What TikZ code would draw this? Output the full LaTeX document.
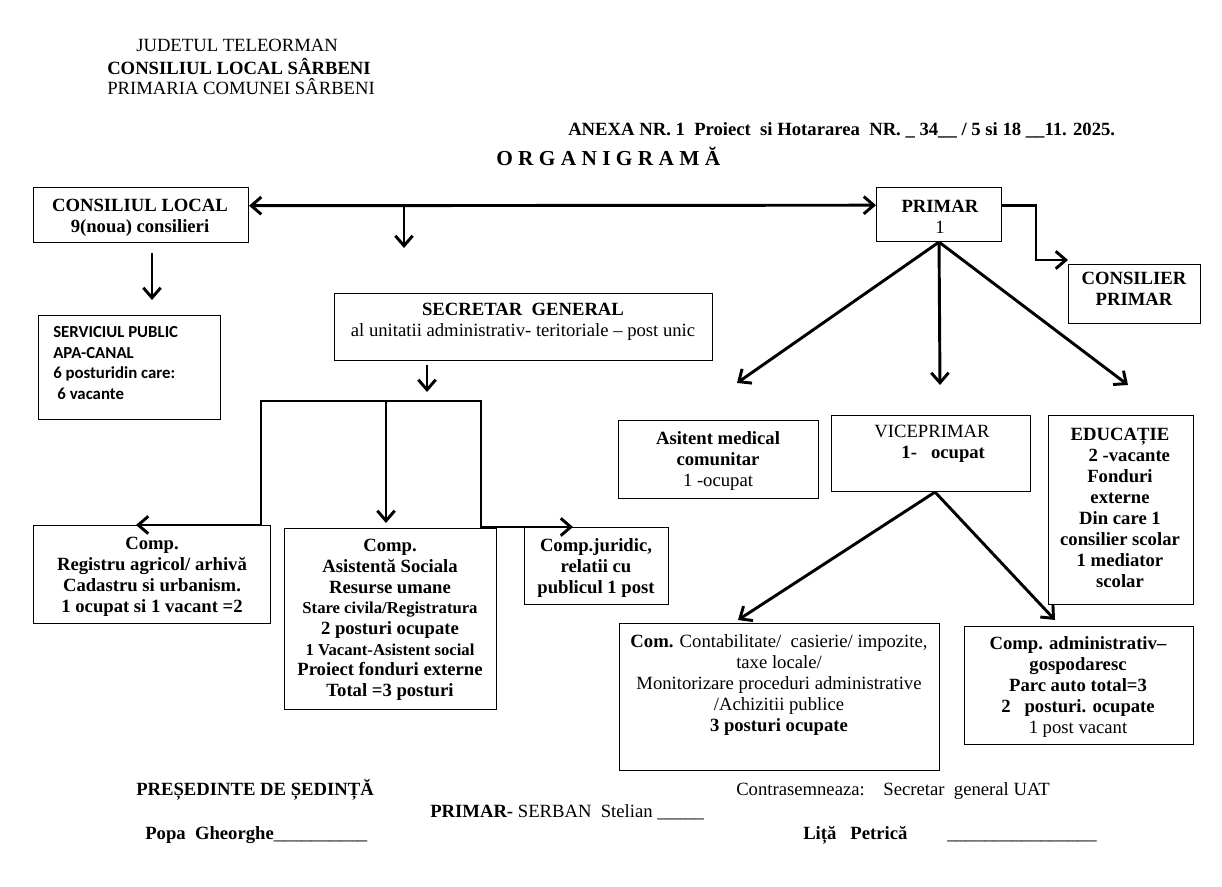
\documentclass[tikz,border=0pt]{standalone}
\usepackage{fontspec}
\setmainfont{Liberation Serif}
\newfontfamily\calibri{Carlito}
\usetikzlibrary{arrows.meta}
\usetikzlibrary{positioning}

\tikzset{
box/.style={draw, rectangle, line width=0.8pt, inner sep=0pt, anchor=north west},
wh/.style 2 args={minimum width=#1*0.75pt, minimum height=#2*0.75pt},
txt/.style={align=center, inner sep=0pt, font=\fontsize{14}{15.75}\selectfont},
txtb/.style={txt, font=\bfseries\fontsize{14}{15.75}\selectfont},
arr/.style={line width=2.2pt, -{Straight Barb[length=7.5pt,width=13pt]}},
arrs/.style={line width=2.2pt, {Straight Barb[length=7.5pt,width=13pt]}-{Straight Barb[length=7.5pt,width=13pt]}}
}

\begin{document}
\begin{tikzpicture}[x=0.75pt,y=-0.75pt]
\fill[white] (0,0) rectangle (1222,887);
\useasboundingbox (0,0) rectangle (1222,887);

% header
\node[txt, anchor=west] (jud) at (136,45) {JUDETUL TELEORMAN};
\node[txtb, anchor=west] (clsar) at (107,66) {CONSILIUL LOCAL SÂRBENI};
\node[txt, anchor=west] (prim) at (107,87) {PRIMARIA COMUNEI SÂRBENI};
\node[txtb, anchor=west] (anexa) at (568,130)
{ANEXA NR. 1\ \ Proiect\ \ si Hotararea\ \ NR. \_ 34\_\_ / 5 si 18 \_\_11. 2025.};
\node[txtb, anchor=west, font=\bfseries\fontsize{16}{18}\selectfont] (titlu) at (496,156)
{O R G A N I G R A M Ă};

% boxes
\node[box, wh={215}{55}] (cl) at (33,187) {};
\node[box, wh={125}{54}] (primar) at (876,187) {};
\node[box, wh={132}{59}] (cp) at (1068,264) {};
\node[box, wh={182}{104}] (sp) at (38,315) {};
\node[box, wh={378}{67}] (sec) at (334,293) {};
\node[box, wh={200}{78}] (amc) at (618,420) {};
\node[box, wh={199}{76}] (vp) at (831,415) {};
\node[box, wh={145}{189}] (ed) at (1048,415) {};
\node[box, wh={237}{98}] (reg) at (33,525) {};
\node[box, wh={212}{181}] (as) at (284,528) {};
\node[box, wh={144}{77}] (jur) at (524,527) {};
\node[box, wh={320}{147}] (cont) at (619,623) {};
\node[box, wh={229}{118}] (adm) at (964,626) {};

% texts
\node[txtb] (cltxt) at (140,218) {CONSILIUL LOCAL\\9(noua) consilieri};
\node[txt] (primartxt) at (940,217) {\textbf{PRIMAR}\\1};
\node[txtb] (cptxt) at (1134,289) {CONSILIER\\PRIMAR};
\node[txt, align=left, anchor=west, font=\calibri\bfseries\fontsize{12.6}{15.5}\selectfont] (sptxt) at (53,363)
{SERVICIUL PUBLIC\\APA-CANAL\\6 posturidin care:\\\hspace*{0.25em}6 vacante};
\node[txt] (sectxt) at (523,322) {\textbf{SECRETAR\ \ GENERAL}\\al unitatii administrativ- teritoriale – post unic};
\node[txt] (amctxt) at (718,461) {\textbf{Asitent medical}\\\textbf{comunitar}\\1 -ocupat};
\node[txt] (vptxt) at (932,444) {VICEPRIMAR\\\hspace*{1.2em}\textbf{1-\ \ \ ocupat}};
\node[txtb] (edtxt) at (1120,508)
{EDUCAȚIE\\\hspace*{1em}2 -vacante\\Fonduri\\externe\\Din care 1\\consilier scolar\\1 mediator\\scolar};
\node[txtb] (regtxt) at (152,577)
{Comp.\\Registru agricol/ arhivă\\Cadastru si urbanism.\\1 ocupat si 1 vacant =2};
\node[txtb, font=\bfseries\fontsize{14}{15.5}\selectfont] (astxt) at (390,620)
{Comp.\\Asistentă Sociala\\Resurse umane\\{\fontsize{12.5}{15.5}\selectfont Stare civila/Registratura}\\2 posturi ocupate\\{\fontsize{12.5}{15.5}\selectfont 1 Vacant-Asistent social}\\Proiect fonduri externe\\Total =3 posturi};
\node[txtb] (jurtxt) at (596,568) {Comp.juridic,\\relatii cu\\publicul 1 post};
\node[txt] (conttxt) at (779,685)
{\textbf{Com.} Contabilitate/\ \ casierie/ impozite,\\taxe locale/\\Monitorizare proceduri administrative\\/Achizitii publice\\\textbf{3 posturi ocupate}};
\node[txt] (admtxt) at (1078,687)
{\textbf{Comp. administrativ–}\\\textbf{gospodaresc}\\\textbf{Parc auto total=3}\\\textbf{2\ \ \ posturi. ocupate}\\1 post vacant};

% connectors
\coordinate (jsec) at (404,205);
\coordinate (jsecend) at (404,248);
\coordinate (spstart) at (152,253);
\coordinate (spend) at (152,300);
\coordinate (cpbend) at (1036,260);
\coordinate (amcin) at (737,383);
\coordinate (vpin) at (940,385);
\coordinate (edin) at (1128,385);
\coordinate (secout) at (427,365);
\coordinate (secend) at (427,392);
\coordinate (brl) at (261,525);
\coordinate (brtl) at (261,401);
\coordinate (brm) at (386,401);
\coordinate (brtr) at (481,401);
\coordinate (brr) at (481,527);
\coordinate (regin) at (136,525);
\coordinate (asin) at (386,523);
\coordinate (jurin) at (573,527);
\coordinate (contin) at (738,620);
\coordinate (admin) at (1055,620);

\draw[arrs] ([yshift=7pt]cl.east) -- ([yshift=7pt]primar.west);
\draw[arr] (jsec) -- (jsecend);
\draw[arr] (spstart) -- (spend);
\draw[arr] ([yshift=7pt]primar.east) -| (cpbend) -- (cpbend -| cp.west);
\draw[arr] (primar.south) -- (amcin);
\draw[arr] (primar.south) -- (vpin);
\draw[arr] (primar.south) -- (edin);
\draw[arr] (secout) -- (secend);
\draw[arrs] (regin) -- (brl) -- (brtl) -- (brtr) -- (brr) -- (jurin);
\draw[arr] (brm) -- (asin);
\draw[arr] ([xshift=3pt]vp.south) -- (contin);
\draw[arr] ([xshift=3pt]vp.south) -- (admin);

% signatures
\node[txtb, anchor=base west] (pres) at (136,796) {PREȘEDINTE DE ȘEDINȚĂ};
\node[txt, anchor=base west] (contra) at (736,796) {Contrasemneaza:\hspace{1em}Secretar\ \ general UAT};
\node[txt, anchor=base west] (psemn) at (430,817) {\textbf{PRIMAR-} SERBAN\ \ Stelian \_\_\_\_\_};
\node[txt, anchor=base west] (popa) at (145,839) {\textbf{Popa\ \ Gheorghe}\_\_\_\_\_\_\_\_\_\_};
\node[txtb, anchor=base west] (lita) at (803,839) {Liță\ \ \ Petrică};
\node[txt, anchor=base west] (litasemn) at (947,839) {\_\_\_\_\_\_\_\_\_\_\_\_\_\_\_\_};
\end{tikzpicture}
\end{document}
